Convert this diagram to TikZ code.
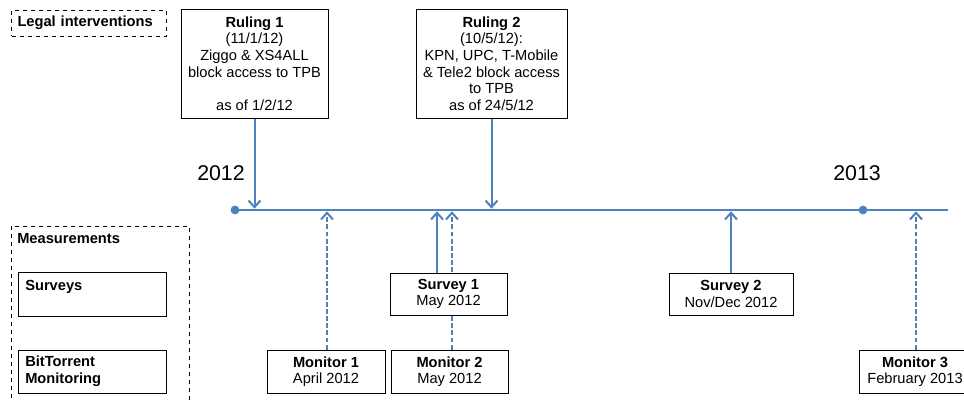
\documentclass[tikz,border=0pt]{standalone}
\usepackage{fontspec}
\setmainfont{Liberation Sans}
\usetikzlibrary{arrows.meta}
\definecolor{lineblue}{RGB}{79,129,189}
\tikzset{
  evbox/.style={draw, fill=white, line width=0.75pt, inner sep=0pt, align=center,
    font=\fontsize{11}{12.4}\selectfont},
  catbox/.style={draw, line width=0.75pt, inner sep=0pt, minimum width=111pt},
  cattext/.style={inner sep=0pt, align=left, font=\fontsize{11}{12.6}\selectfont\bfseries},
  yeartext/.style={inner sep=0pt, font=\fontsize{16}{19}\selectfont},
  timeline/.style={lineblue, line width=2.2pt},
  evarrow/.style={lineblue, line width=1.5pt, -{Straight Barb[length=5pt,width=9pt]}, shorten >=1pt},
  monarrow/.style={evarrow, dash pattern=on 3.7pt off 1.6pt}
}

\begin{document}
\begin{tikzpicture}[x=0.75pt, y=-0.75pt]
\useasboundingbox (0,0) rectangle (964,401);

% legend
\node[draw, dashed, line width=0.75pt, cattext, text width=107pt, inner xsep=4.5pt,
  minimum height=19.5pt, anchor=west] (legal) at (11,23) {Legal interventions};
\begin{scope}
\clip (0,0) rectangle (964,401);
\draw[dashed, line width=0.75pt] (11,226) rectangle (189,420);
\end{scope}
\node[cattext, anchor=west] (meas) at (17,239) {Measurements};
\node[catbox, minimum height=33pt] (surveys) at (92,294) {};
\node[cattext, anchor=west] (surveys-lbl) at (25,287) {Surveys};
\node[catbox, minimum height=32.25pt] (bittorrent) at (92,371.5) {};
\node[cattext, anchor=west] (bittorrent-lbl) at (25,371.5) {BitTorrent\\Monitoring};

% timeline
\coordinate (tl-start) at (235,210);
\coordinate (tl-end) at (948,210);
\coordinate (tl-2013) at (863,210);
\draw[timeline] (tl-start) -- (tl-end);
\fill[lineblue] (tl-start) circle[radius=3.3pt];
\fill[lineblue] (tl-2013) circle[radius=3.3pt];
\node[yeartext] (y2012) at (221,173) {2012};
\node[yeartext] (y2013) at (857,173) {2013};

% rulings
\node[evbox, minimum width=110.25pt, minimum height=81.75pt] (r1) at (254.5,63.5)
  {\textbf{Ruling 1}\\(11/1/12)\\Ziggo \& XS4ALL\\block access to TPB\\ \\as of 1/2/12};
\node[evbox, minimum width=113.25pt, minimum height=81.75pt] (r2) at (491.5,63.5)
  {\textbf{Ruling 2}\\(10/5/12):\\KPN, UPC, T-Mobile\\\& Tele2 block access\\to TPB\\as of 24/5/12};
\draw[evarrow] (r1.south) -- (r1.south |- tl-start);
\draw[evarrow] (r2.south) -- (r2.south |- tl-start);

% monitors
\coordinate (t-m1) at (327,210);
\coordinate (t-m2) at (452,210);
\coordinate (t-m3) at (916,210);
\node[evbox, minimum width=88.5pt, minimum height=32.25pt] (m1) at (326,371.5)
  {\textbf{Monitor 1}\\April 2012};
\node[evbox, minimum width=87.75pt, minimum height=32.25pt] (m2) at (449.5,371.5)
  {\textbf{Monitor 2}\\May 2012};
\node[evbox, minimum width=84pt, minimum height=32.25pt] (m3) at (915,371.5)
  {\textbf{Monitor 3}\\February 2013};
\draw[monarrow] (m1.north -| t-m1) -- (t-m1);
\draw[monarrow] (m2.north -| t-m2) -- (t-m2);
\draw[monarrow] (m3.north -| t-m3) -- (t-m3);

% surveys
\coordinate (t-s1) at (437,210);
\coordinate (t-s2) at (731,210);
\node[evbox, minimum width=87.75pt, minimum height=31.5pt] (s1) at (448.5,294)
  {\textbf{Survey 1}\\May 2012};
\node[evbox, minimum width=93pt, minimum height=31.5pt] (s2) at (731,294)
  {\textbf{Survey 2}\\Nov/Dec 2012};
\draw[evarrow] (s1.north -| t-s1) -- (t-s1);
\draw[evarrow] (s2.north -| t-s2) -- (t-s2);

\end{tikzpicture}
\end{document}
